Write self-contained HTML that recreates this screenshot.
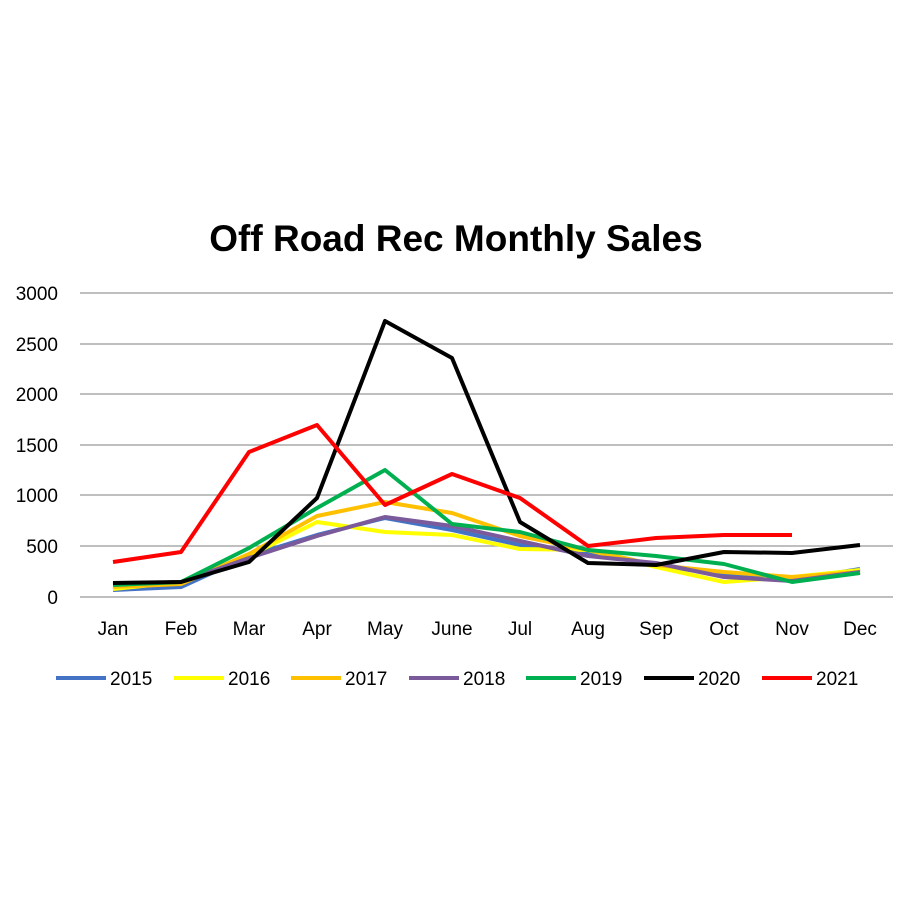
<!DOCTYPE html>
<html><head><meta charset="utf-8"><style>body{margin:0;background:#fff}</style></head><body>
<svg width="900" height="900" xmlns="http://www.w3.org/2000/svg" font-family="Liberation Sans, sans-serif">
<rect width="900" height="900" fill="#fff"/>
<text x="456" y="251" text-anchor="middle" font-size="37" font-weight="bold" fill="#000">Off Road Rec Monthly Sales</text>
<g stroke="#999" stroke-width="1.3">
<line x1="80" y1="293" x2="893" y2="293"/><line x1="80" y1="344" x2="893" y2="344"/>
<line x1="80" y1="394" x2="893" y2="394"/><line x1="80" y1="445" x2="893" y2="445"/>
<line x1="80" y1="495" x2="893" y2="495"/><line x1="80" y1="546" x2="893" y2="546"/>
<line x1="80" y1="597" x2="893" y2="597"/>
</g>
<g font-size="19" fill="#000" text-anchor="end">
<text x="58" y="300">3000</text><text x="58" y="351">2500</text><text x="58" y="401">2000</text>
<text x="58" y="452">1500</text><text x="58" y="502">1000</text><text x="58" y="553">500</text><text x="58" y="604">0</text>
</g>
<g font-size="19" fill="#000" text-anchor="middle">
<text x="113" y="635">Jan</text><text x="181" y="635">Feb</text><text x="249" y="635">Mar</text><text x="317" y="635">Apr</text>
<text x="385" y="635">May</text><text x="452" y="635">June</text><text x="520" y="635">Jul</text><text x="588" y="635">Aug</text>
<text x="656" y="635">Sep</text><text x="724" y="635">Oct</text><text x="792" y="635">Nov</text><text x="860" y="635">Dec</text>
</g>
<g fill="none" stroke-width="4" stroke-linejoin="round">
<polyline stroke="#4472c4" points="113,590 181,587 249,556 317,535 385,518 452,530 520,545 588,553 656,565 724,575 792,580 860,569"/>
<polyline stroke="#ffff00" points="113,589 181,582 249,556 317,522 385,532 452,535 520,549 588,550 656,567 724,582 792,577 860,570"/>
<polyline stroke="#ffc000" points="113,587 181,584 249,554 317,516 385,502 452,513 520,536 588,550 656,565 724,572 792,577 860,572"/>
<polyline stroke="#7a5a9a" points="113,584 181,582 249,558 317,536 385,517 452,526 520,541 588,556 656,563 724,577 792,581 860,572"/>
<polyline stroke="#00b050" points="113,585 181,582 249,548 317,508 385,470 452,524 520,532 588,550 656,556 724,564 792,582 860,573"/>
<polyline stroke="#000" points="113,583 181,582 249,562 317,498 385,321 452,358 520,522 588,563 656,565 724,552 792,553 860,545"/>
<polyline stroke="#ff0000" points="113,562 181,552 249,452 317,425 385,505 452,474 520,498 588,546 656,538 724,535 792,535"/>
</g>
<g font-size="19" fill="#000">
<line x1="56" y1="678" x2="106" y2="678" stroke="#4472c4" stroke-width="4"/><text x="110" y="685">2015</text>
<line x1="174" y1="678" x2="224" y2="678" stroke="#ffff00" stroke-width="4"/><text x="228" y="685">2016</text>
<line x1="291" y1="678" x2="341" y2="678" stroke="#ffc000" stroke-width="4"/><text x="345" y="685">2017</text>
<line x1="409" y1="678" x2="459" y2="678" stroke="#7a5a9a" stroke-width="4"/><text x="463" y="685">2018</text>
<line x1="526" y1="678" x2="576" y2="678" stroke="#00b050" stroke-width="4"/><text x="580" y="685">2019</text>
<line x1="644" y1="678" x2="694" y2="678" stroke="#000" stroke-width="4"/><text x="698" y="685">2020</text>
<line x1="762" y1="678" x2="812" y2="678" stroke="#ff0000" stroke-width="4"/><text x="816" y="685">2021</text>
</g>
</svg>
</body></html>
